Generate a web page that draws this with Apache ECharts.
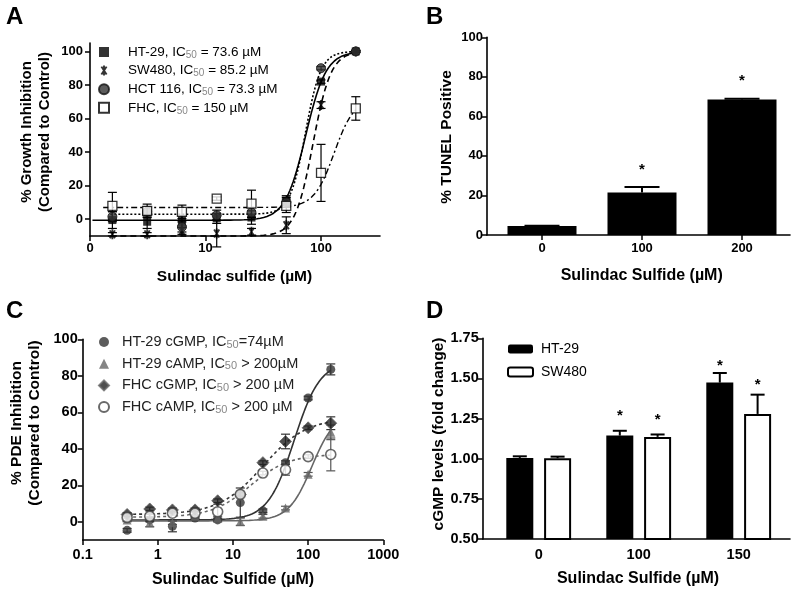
<!DOCTYPE html>
<html><head><meta charset="utf-8">
<script src="https://cdn.jsdelivr.net/npm/echarts@6/dist/echarts.min.js"></script>
<style>html,body{margin:0;padding:0;background:#fff}#c{width:800px;height:598px}</style>
</head><body><div id="c"></div>
<script>
// ---------- Panel A: growth inhibition ----------
const concA = [1.5625, 3.125, 6.25, 12.5, 25, 50, 100, 200];
const htA = [-0.5, -1.5, -1, 0.5, 1, 11, 82, 100];
const htAErr = [5, 4, 3, 3, 4, 3, 1, 0.5];
const swA = [-9, -9, -7, -8.5, -7.5, -3.6, 68, 100];
const swAErr = [1, 1, 2, 8, 2, 5, 2, 0.5];
const hctA = [1.5, 4.4, -4.6, 2.4, 4, 10, 90, 100];
const hctAErr = [3, 3, 3, 3, 3, 3, 1, 0.5];
const fhcA = [8, 5, 4.4, 12.3, 9.3, 8, 27.6, 66];
const fhcAErr = [8, 4, 4, 1, 8, 4, 17, 7];
// fitted 4-parameter logistic curves: [bottom, top, IC50, hill]
const fitHtA = [-0.6, 100, 73.6, 4.9];
const fitSwA = [-10, 100, 85.2, 5.6];
const fitHctA = [3, 100, 73.3, 6.5];
const fitFhcA = [7, 72, 130, 5];
const xTicksA = [1, 10, 100];
const xTickLabelsA = ['0', '10', '100'];
const yTicksA = [0, 20, 40, 60, 80, 100];
const legendA = [['HT-29, IC', '50', ' = 73.6 µM'], ['SW480, IC', '50', ' = 85.2 µM'], ['HCT 116, IC', '50', ' = 73.3 µM'], ['FHC, IC', '50', ' = 150 µM']];

// ---------- Panel B: TUNEL ----------
const catsB = ['0', '100', '200'];
const tunel = [4.5, 21.5, 68.5];
const tunelErr = [0.2, 2.8, 0.4];
const starsB = [null, 35, 80];

// ---------- Panel C: PDE inhibition ----------
const concC = [0.39, 0.78, 1.5625, 3.125, 6.25, 12.5, 25, 50, 100, 200];
const htGmpC = [-4.7, 1, -2.5, 2, 1, 10.5, 6, 32.4, 67.8, 83.5];
const htGmpCErr = [1, 1, 3, 1, 1, 8, 1, 1, 1, 3];
const htAmpC = [1, -0.7, -0.5, 3, 2, 0, 3, 7.5, 26, 49];
const htAmpCErr = [1, 2, 1, 1, 1, 2, 1, 1, 1, 4];
const fhcGmpC = [4, 7, 6.5, 6.5, 11.5, 15, 32.4, 44, 51.5, 54];
const fhcGmpCErr = [1, 1, 1, 1, 1, 1, 1, 4, 1, 3.5];
const fhcAmpC = [2.4, 3, 4.7, 4.7, 5.5, 15, 26.7, 28.5, 35.7, 36.9];
const fhcAmpCErr = [2, 1, 1, 1, 4, 1, 1, 3, 1, 9];
const fitHtGmpC = [1, 88, 65, 2.5];
const fitHtAmpC = [0.5, 60, 112, 2.8];
const fitFhcGmpC = [4, 57, 25, 1.5];
const fitFhcAmpC = [2.5, 37, 17, 1.7];
const xTicksC = [0.1, 1, 10, 100, 1000];
const xTickLabelsC = ['0.1', '1', '10', '100', '1000'];
const yTicksC = [0, 20, 40, 60, 80, 100];
const legendC = [['HT-29 cGMP, IC', '50', '=74µM'], ['HT-29 cAMP, IC', '50', ' > 200µM'], ['FHC cGMP, IC', '50', ' > 200 µM'], ['FHC cAMP, IC', '50', ' > 200 µM']];

// ---------- Panel D: cGMP levels ----------
const catsD = ['0', '100', '150'];
const ht29D = [1.005, 1.144, 1.474];
const ht29DErr = [0.01, 0.03, 0.06];
const sw480D = [1.003, 1.136, 1.279];
const sw480DErr = [0.01, 0.015, 0.12];
const starsHtD = [null, 1.293, 1.605];
const starsSwD = [null, 1.266, 1.486];

// ---------- helpers ----------
const FONT = 'Arial, "Liberation Sans", Helvetica, sans-serif';
const ASTERISK = 'path://M41,2L59,2L59,98L41,98Z M17.3,16.5L32.9,7.5L82.7,83.5L67.1,92.5Z M32.9,92.5L17.3,83.5L67.1,7.5L82.7,16.5Z';

function logistic(p, lo, hi, n) {
  const pts = [];
  for (let i = 0; i <= n; i++) {
    const x = lo * Math.pow(hi / lo, i / n);
    pts.push([x, p[0] + (p[1] - p[0]) / (1 + Math.pow(p[2] / x, p[3]))]);
  }
  return pts;
}
function pickLabel(ticks, labels) {
  return function (v) {
    for (let i = 0; i < ticks.length; i++) {
      if (Math.abs(Math.log10(v) - Math.log10(ticks[i])) < 1e-6) return labels[i];
    }
    return '';
  };
}
function errScatter(gi, xs, ys, es, color, capW) {
  return {
    type: 'custom', xAxisIndex: gi, yAxisIndex: gi, z: 3, silent: true, clip: false,
    data: xs.map((x, i) => [x, ys[i], es[i]]),
    renderItem(params, api) {
      const x = api.value(0), y = api.value(1), e = api.value(2);
      const t = api.coord([x, y + e]), b = api.coord([x, y - e]);
      const h = capW / 2, st = { stroke: color, lineWidth: 1.2 };
      return { type: 'group', children: [
        { type: 'line', shape: { x1: t[0], y1: t[1], x2: b[0], y2: b[1] }, style: st },
        { type: 'line', shape: { x1: t[0] - h, y1: t[1], x2: t[0] + h, y2: t[1] }, style: st },
        { type: 'line', shape: { x1: b[0] - h, y1: b[1], x2: b[0] + h, y2: b[1] }, style: st }
      ] };
    }
  };
}
function errBar(gi, ys, es, dx, capW) {
  return {
    type: 'custom', xAxisIndex: gi, yAxisIndex: gi, z: 1, silent: true, clip: false,
    data: ys.map((y, i) => [i, y, es[i]]),
    renderItem(params, api) {
      const x = api.value(0), y = api.value(1), e = api.value(2);
      const p = api.coord([x, y]), t = api.coord([x, y + e]);
      const st = { stroke: '#000', lineWidth: 2 };
      return { type: 'group', children: [
        { type: 'line', shape: { x1: p[0] + dx, y1: p[1], x2: t[0] + dx, y2: t[1] }, style: st },
        { type: 'line', shape: { x1: t[0] + dx - capW / 2, y1: t[1], x2: t[0] + dx + capW / 2, y2: t[1] }, style: st }
      ] };
    }
  };
}
function stars(gi, ys, dx) {
  return {
    type: 'custom', xAxisIndex: gi, yAxisIndex: gi, z: 5, silent: true, clip: false,
    data: ys.map((y, i) => [i, y]).filter(d => d[1] != null),
    renderItem(params, api) {
      const p = api.coord([api.value(0), api.value(1)]);
      return { type: 'text', x: p[0] + dx, y: p[1] + 4,
        style: { text: '*', font: 'bold 15px ' + FONT, fill: '#000', align: 'center', verticalAlign: 'middle' } };
    }
  };
}
const axLine = { show: true, onZero: false, lineStyle: { color: '#000', width: 1.6 } };
const tickLbl = { color: '#000', fontSize: 13, fontWeight: 'bold', fontFamily: FONT };
const tickLblL = { color: '#000', fontSize: 14.5, fontWeight: 'bold', fontFamily: FONT };
function fitLine(gi, pts, color, type, width) {
  return { type: 'line', xAxisIndex: gi, yAxisIndex: gi, data: pts, showSymbol: false, silent: true, z: 2,
    lineStyle: { color: color, width: width || 1.5, type: type }, clip: false };
}
function pts(xs, ys) { return xs.map((x, i) => [x, ys[i]]); }
function legendFmt(list) {
  return function (name) {
    for (const p of list) if (p.join('') === name) return p[0] + '{s|' + p[1] + '}' + p[2];
    return name;
  };
}
function nameText(x, y, text, size, rot, lh) {
  const o = { type: 'text', x: x, y: y,
    style: { text: text, font: 'bold ' + size + 'px ' + FONT, fill: '#000', align: 'center', verticalAlign: 'middle', lineHeight: lh || size + 3 } };
  if (rot) o.rotation = Math.PI / 2;
  return o;
}

const chart = echarts.init(document.getElementById('c'), null, { renderer: 'canvas' });
const option = {
  backgroundColor: '#fff',
  animation: false,
  grid: [
    { left: 90, top: 43, width: 290, height: 193, outerBoundsMode: 'none' },
    { left: 487, top: 37.3, width: 303, height: 197.7, outerBoundsMode: 'none' },
    { left: 82.7, top: 339.3, width: 300.6, height: 200.7, outerBoundsMode: 'none' },
    { left: 482.7, top: 338.3, width: 307.3, height: 200.7, outerBoundsMode: 'none' }
  ],
  xAxis: [
    { gridIndex: 0, type: 'log', logBase: 10, min: 1, max: 324, axisLine: axLine,
      axisTick: { length: 5, lineStyle: { color: '#000', width: 1.5 }, customValues: xTicksA },
      axisLabel: Object.assign({ margin: 6, customValues: xTicksA, formatter: pickLabel(xTicksA, xTickLabelsA) }, tickLbl),
      splitLine: { show: false }, minorTick: { show: false } },
    { gridIndex: 1, type: 'value', min: -0.55, max: 2.48, axisLine: axLine,
      axisTick: { length: 5, lineStyle: { color: '#000', width: 1.5 }, customValues: [0, 1, 2] },
      axisLabel: Object.assign({ margin: 7, customValues: [0, 1, 2], formatter: v => catsB[Math.round(v)] }, tickLbl),
      splitLine: { show: false } },
    { gridIndex: 2, type: 'log', logBase: 10, min: 0.1, max: 1000, axisLine: axLine,
      axisTick: { length: 5, lineStyle: { color: '#000', width: 1.5 }, customValues: xTicksC },
      axisLabel: Object.assign({ margin: 7, customValues: xTicksC, formatter: pickLabel(xTicksC, xTickLabelsC) }, tickLblL),
      splitLine: { show: false } },
    { gridIndex: 3, type: 'value', min: -0.56, max: 2.513, axisLine: axLine,
      axisTick: { show: false },
      axisLabel: Object.assign({ margin: 8, customValues: [0, 1, 2], formatter: v => catsD[Math.round(v)] }, tickLblL),
      splitLine: { show: false } }
  ],
  yAxis: [
    { gridIndex: 0, type: 'value', min: -10, max: 105, axisLine: axLine,
      axisTick: { length: 5, lineStyle: { color: '#000', width: 1.5 }, customValues: yTicksA },
      axisLabel: Object.assign({ margin: 7, customValues: yTicksA }, tickLbl), splitLine: { show: false } },
    { gridIndex: 1, type: 'value', min: 0, max: 100, interval: 20, axisLine: axLine,
      axisTick: { length: 5, lineStyle: { color: '#000', width: 1.5 } },
      axisLabel: Object.assign({ margin: 4, }, tickLbl), splitLine: { show: false } },
    { gridIndex: 2, type: 'value', min: -10, max: 100, axisLine: axLine,
      axisTick: { length: 5, lineStyle: { color: '#000', width: 1.5 }, customValues: yTicksC },
      axisLabel: Object.assign({ margin: 5, customValues: yTicksC }, tickLblL), splitLine: { show: false } },
    { gridIndex: 3, type: 'value', min: 0.5, max: 1.75, interval: 0.25, axisLine: axLine,
      axisTick: { length: 5, lineStyle: { color: '#000', width: 1.5 } },
      axisLabel: Object.assign({ margin: 4, formatter: v => v.toFixed(2) }, tickLblL), splitLine: { show: false } }
  ],
  legend: [
    { left: 98, top: 44, padding: 0, orient: 'vertical', itemWidth: 10, itemHeight: 10, itemGap: 2.6,
      data: legendA.map(p => p.join('')), formatter: legendFmt(legendA), selectedMode: false,
      textStyle: { fontSize: 13.5, color: '#000', fontFamily: FONT, lineHeight: 16, padding: [0, 0, 0, 14],
        rich: { s: { fontSize: 10, color: '#888', fontFamily: FONT, verticalAlign: 'bottom', lineHeight: 13 } } } },
    { left: 98, top: 334, padding: 0, orient: 'vertical', itemWidth: 10, itemHeight: 10, itemGap: 5.7,
      data: legendC.map(p => p.join('')), formatter: legendFmt(legendC), selectedMode: false,
      textStyle: { fontSize: 14.5, color: '#222', fontFamily: FONT, lineHeight: 16, padding: [0, 0, 0, 8],
        rich: { s: { fontSize: 11, color: '#888', fontFamily: FONT, verticalAlign: 'bottom', lineHeight: 13 } } } },
    { left: 507, top: 341, padding: 0, orient: 'vertical', itemWidth: 25, itemHeight: 9, itemGap: 7,
      data: ['HT-29', 'SW480'], selectedMode: false,
      textStyle: { fontSize: 14, color: '#000', fontFamily: FONT, lineHeight: 16, padding: [0, 0, 0, 3] } }
  ],
  graphic: [
    { type: 'text', x: 6, y: 5, style: { text: 'A', font: 'bold 24px ' + FONT, fill: '#000' } },
    { type: 'text', x: 426, y: 5, style: { text: 'B', font: 'bold 24px ' + FONT, fill: '#000' } },
    { type: 'text', x: 6, y: 299, style: { text: 'C', font: 'bold 24px ' + FONT, fill: '#000' } },
    { type: 'text', x: 426, y: 299, style: { text: 'D', font: 'bold 24px ' + FONT, fill: '#000' } },
    nameText(36, 132, '% Growth Inhibition\n(Compared to Control)', 15, true, 18),
    nameText(447, 137, '% TUNEL Positive', 15.5, true),
    nameText(26, 423, '% PDE Inhibition\n(Compared to Control)', 15.5, true, 18),
    nameText(439, 434, 'cGMP levels (fold change)', 15.5, true),
    nameText(234.5, 276.5, 'Sulindac sulfide (µM)', 15.5),
    nameText(641.7, 276, 'Sulindac Sulfide (µM)', 16),
    nameText(233, 580, 'Sulindac Sulfide (µM)', 16),
    nameText(638, 579, 'Sulindac Sulfide (µM)', 16)
  ],
  series: [
    // Panel A curves
    fitLine(0, logistic(fitHtA, 1.05, 200, 160), '#000', 'solid', 1.6),
    fitLine(0, logistic(fitSwA, 1.5, 200, 160), '#000', [6, 4], 1.6),
    fitLine(0, logistic(fitHctA, 1.5, 200, 160), '#000', [2, 2], 1.6),
    fitLine(0, logistic(fitFhcA, 1.3, 200, 160), '#000', [6, 3, 2, 3], 1.4),
    errScatter(0, concA, htA, htAErr, '#000', 9),
    errScatter(0, concA, swA, swAErr, '#000', 9),
    errScatter(0, concA, hctA, hctAErr, '#000', 9),
    errScatter(0, concA, fhcA, fhcAErr, '#000', 9),
    { type: 'scatter', name: legendA[0].join(''), xAxisIndex: 0, yAxisIndex: 0, z: 4, data: pts(concA, htA), symbol: 'rect', symbolSize: 8, itemStyle: { color: '#000' } },
    { type: 'scatter', name: legendA[1].join(''), xAxisIndex: 0, yAxisIndex: 0, z: 4, data: pts(concA, swA), symbol: ASTERISK, symbolKeepAspect: true, symbolSize: 10, itemStyle: { color: '#000' } },
    { type: 'scatter', name: legendA[2].join(''), xAxisIndex: 0, yAxisIndex: 0, z: 4, data: pts(concA, hctA), symbol: 'circle', symbolSize: 9, itemStyle: { color: '#333', borderColor: '#111', borderWidth: 1 } },
    { type: 'scatter', name: legendA[3].join(''), xAxisIndex: 0, yAxisIndex: 0, z: 4, data: pts(concA, fhcA), symbol: 'rect', symbolSize: 9, itemStyle: { color: '#fff', borderColor: '#000', borderWidth: 1.3 } },
    // Panel B
    { type: 'bar', xAxisIndex: 1, yAxisIndex: 1, z: 2, barWidth: 69, data: tunel.map((v, i) => [i, v]), itemStyle: { color: '#000' }, silent: true },
    errBar(1, tunel, tunelErr, 0, 35),
    stars(1, starsB, 0),
    // Panel C curves
    fitLine(2, logistic(fitHtGmpC, 0.39, 200, 160), '#333', 'solid', 1.6),
    fitLine(2, logistic(fitHtAmpC, 0.39, 200, 160), '#666', 'solid', 1.6),
    fitLine(2, logistic(fitFhcGmpC, 0.39, 200, 160), '#333', [3, 3], 1.6),
    fitLine(2, logistic(fitFhcAmpC, 0.39, 200, 160), '#666', [3, 3], 1.6),
    errScatter(2, concC, htGmpC, htGmpCErr, '#333', 9),
    errScatter(2, concC, htAmpC, htAmpCErr, '#555', 9),
    errScatter(2, concC, fhcGmpC, fhcGmpCErr, '#333', 9),
    errScatter(2, concC, fhcAmpC, fhcAmpCErr, '#555', 9),
    { type: 'scatter', name: legendC[0].join(''), xAxisIndex: 2, yAxisIndex: 2, z: 4, data: pts(concC, htGmpC), symbol: 'circle', symbolSize: 9, itemStyle: { color: '#333' } },
    { type: 'scatter', name: legendC[1].join(''), xAxisIndex: 2, yAxisIndex: 2, z: 4, data: pts(concC, htAmpC), symbol: 'triangle', symbolSize: 9, itemStyle: { color: '#666' } },
    { type: 'scatter', name: legendC[2].join(''), xAxisIndex: 2, yAxisIndex: 2, z: 4, data: pts(concC, fhcGmpC), symbol: 'diamond', symbolSize: 12, itemStyle: { color: '#222', borderColor: '#666', borderWidth: 1 } },
    { type: 'scatter', name: legendC[3].join(''), xAxisIndex: 2, yAxisIndex: 2, z: 4, data: pts(concC, fhcAmpC), symbol: 'circle', symbolSize: 10, itemStyle: { color: '#fff', borderColor: '#444', borderWidth: 1.6 } },
    // Panel D
    { type: 'bar', name: 'HT-29', xAxisIndex: 3, yAxisIndex: 3, z: 2, barWidth: 27, barGap: '40%', data: ht29D.map((v, i) => [i, v]), itemStyle: { color: '#000' }, silent: true },
    { type: 'bar', name: 'SW480', xAxisIndex: 3, yAxisIndex: 3, z: 2, barWidth: 27, barGap: '40%', data: sw480D.map((v, i) => [i, v]), itemStyle: { color: '#fff', borderColor: '#000', borderWidth: 2 }, silent: true },
    errBar(3, ht29D, ht29DErr, -18.9, 14),
    errBar(3, sw480D, sw480DErr, 18.9, 14),
    stars(3, starsHtD, -18.9),
    stars(3, starsSwD, 18.9)
  ]
};
chart.setOption(option);
</script>
</body></html>
